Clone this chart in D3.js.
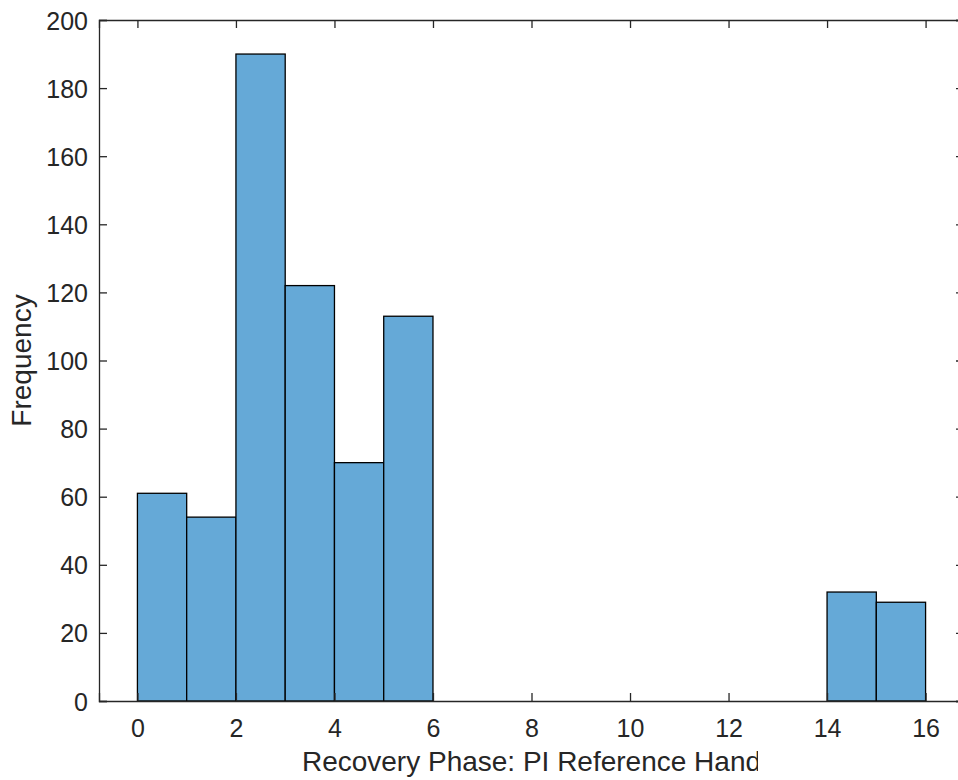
<!DOCTYPE html>
<html>
<head>
<meta charset="utf-8">
<script src="https://cdn.jsdelivr.net/npm/d3@7"></script>
<style>
  body { margin: 0; background: #fff; }
  svg { display: block; }
</style>
</head>
<body>
<script>
// histogram bins (edges) and counts
var binStarts = [0, 1, 2, 3, 4, 5, 14, 15];
var binWidth = 1;
var counts = [61, 54, 190, 122, 70, 113, 32, 29];
var xTicks = [0, 2, 4, 6, 8, 10, 12, 14, 16];
var yTicks = [0, 20, 40, 60, 80, 100, 120, 140, 160, 180, 200];

var width = 958;
var height = 780;
var axisColor = "#262626";
var barColor = "rgb(101,169,215)";

var plotLeft = 99, plotRight = 964, plotTop = 20, plotBottom = 701;

var x = d3.scaleLinear().domain([-0.78, 16.78]).range([plotLeft, plotRight]);
var y = d3.scaleLinear().domain([0, 200]).range([plotBottom, plotTop]);

var svg = d3.select("body")
  .append("svg")
  .attr("width", width)
  .attr("height", height)
  .style("font-family", "'Liberation Sans', Arial, sans-serif");

var data = binStarts.map(function(s, i) { return { x0: s, x1: s + binWidth, n: counts[i] }; });

svg.selectAll("rect.bar")
  .data(data)
  .enter()
  .append("rect")
  .attr("class", "bar")
  .attr("x", function(d) { return x(d.x0); })
  .attr("y", function(d) { return y(d.n); })
  .attr("width", function(d) { return x(d.x1) - x(d.x0); })
  .attr("height", function(d) { return y(0) - y(d.n); })
  .attr("fill", barColor)
  .attr("stroke", "#000")
  .attr("stroke-width", 1.3);

// axes (ticks inside, mirrored on top/right)
var tickLen = 8;

var xAxis = svg.append("g")
  .attr("transform", "translate(0," + plotBottom + ")")
  .call(d3.axisBottom(x).tickValues(xTicks).tickSize(-tickLen).tickPadding(18));

var xAxisTop = svg.append("g")
  .attr("transform", "translate(0," + plotTop + ")")
  .call(d3.axisTop(x).tickValues(xTicks).tickSize(-tickLen).tickFormat(""));

var yAxis = svg.append("g")
  .attr("transform", "translate(" + plotLeft + ",0)")
  .call(d3.axisLeft(y).tickValues(yTicks).tickSize(-tickLen).tickPadding(11));

var yAxisRight = svg.append("g")
  .attr("transform", "translate(" + plotRight + ",0)")
  .call(d3.axisRight(y).tickValues(yTicks).tickSize(-tickLen).tickFormat(""));

[xAxis, xAxisTop, yAxis, yAxisRight].forEach(function(g) {
  g.attr("font-size", null).attr("font-family", null);
  g.select(".domain").attr("stroke", axisColor).attr("stroke-width", 1.3);
  g.selectAll(".tick line").attr("stroke", axisColor).attr("stroke-width", 1.3);
  g.selectAll(".tick text")
    .attr("fill", axisColor)
    .style("font-size", "25px");
});
yAxis.selectAll(".tick text").attr("dy", "0.36em");

// x label, clipped like the original
svg.append("clipPath")
  .attr("id", "xlabClip")
  .append("rect")
  .attr("x", 0).attr("y", 700).attr("width", 758).attr("height", 80);

svg.append("text")
  .attr("clip-path", "url(#xlabClip)")
  .attr("x", (plotLeft + plotRight) / 2)
  .attr("y", 771)
  .attr("text-anchor", "middle")
  .attr("fill", axisColor)
  .style("font-size", "28px")
  .text("Recovery Phase: PI Reference Hand");

svg.append("text")
  .attr("transform", "translate(31," + ((plotTop + plotBottom) / 2) + ") rotate(-90)")
  .attr("text-anchor", "middle")
  .attr("fill", axisColor)
  .style("font-size", "28px")
  .text("Frequency");
</script>
</body>
</html>
